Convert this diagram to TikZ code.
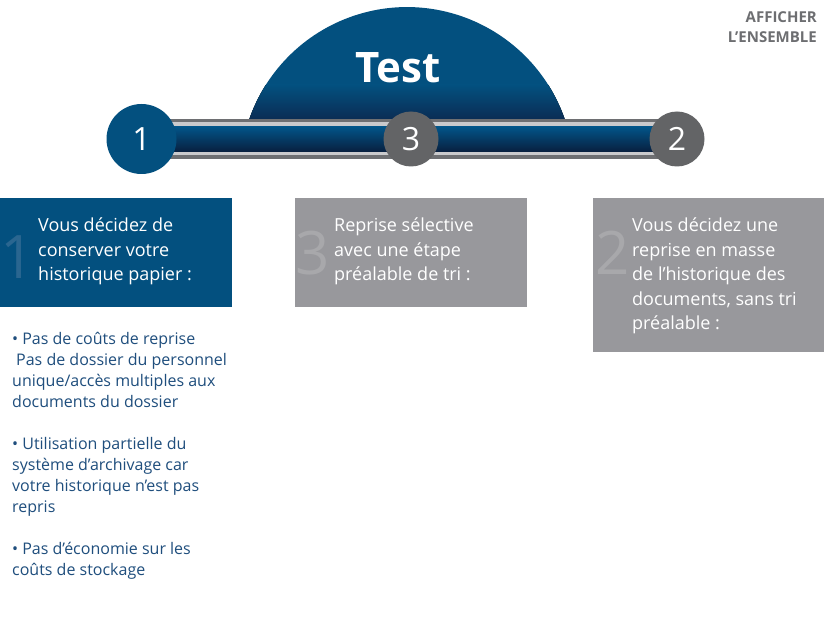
\documentclass[tikz,border=0pt]{standalone}
\usepackage{fontspec}
\setmainfont{Open Sans}
\usetikzlibrary{positioning,calc}

\definecolor{stepblue}{HTML}{03507F}
\definecolor{domedark}{HTML}{0B2B52}
\definecolor{barblue}{HTML}{02558A}
\definecolor{bardark}{HTML}{08203F}
\definecolor{bargray}{HTML}{6E6F72}
\definecolor{barlight}{HTML}{CACACC}
\definecolor{stepgray}{HTML}{636466}
\definecolor{panelgray}{HTML}{98989C}
\definecolor{listblue}{HTML}{1F4E7D}
\definecolor{faintblue}{HTML}{2A6690}
\definecolor{faintgray}{HTML}{A8A8AB}
\definecolor{linkgray}{HTML}{6D6E71}

\begin{document}
\begin{tikzpicture}[x=1pt,y=-1pt,
  numdisc/.style={circle, inner sep=0pt, text=white, font=\fontsize{32}{32}\selectfont},
  panel/.style={anchor=north west, inner sep=0pt, minimum width=232, minimum height=109},
  paneltext/.style={anchor=base west, inner sep=0pt, align=left, text=white, font=\fontsize{18}{24.5}\selectfont},
  bignum/.style={anchor=base west, inner sep=0pt, font=\fontsize{60}{60}\selectfont}]
	\useasboundingbox (0,0) rectangle (824,639);
	\fill[white] (0,0) rectangle (824,639);

	% dome
	\fill[stepblue] (565,120) arc[start angle=-18.9, end angle=-161.1, radius=167] -- cycle;
	\begin{scope}
		\clip (565,120) arc[start angle=-18.9, end angle=-161.1, radius=167] -- cycle;
		\fill[top color=stepblue, bottom color=domedark] (230,85) rectangle (585,121);
	\end{scope}
	\node[inner sep=0pt, text=white, font=\bfseries\fontsize{42}{42}\selectfont] (title) at (398,68) {Test};

	% steps
	\coordinate (s1) at (141.5,139);
	\coordinate (s2) at (677,139);
	\fill[bargray] ($(s1)+(0,-20)$) rectangle ($(s2)+(0,20)$);
	\fill[barlight] ($(s1)+(0,-16.5)$) rectangle ($(s2)+(0,16.5)$);
	\fill[top color=barblue, bottom color=bardark] ($(s1)+(0,-12.5)$) rectangle ($(s2)+(0,12.5)$);
	\node[numdisc, fill=stepblue, minimum size=70] (c1) at (s1) {1};
	\node[numdisc, fill=stepgray, minimum size=55] (c3) at (411,139) {3};
	\node[numdisc, fill=stepgray, minimum size=55] (c2) at (s2) {2};

	% panels (base = last line)
	\node[panel, fill=stepblue] (p1) at (0,198) {};
	\node[panel, fill=panelgray] (p3) at (295,198) {};
	\node[panel, fill=panelgray, minimum width=231, minimum height=154] (p2) at (593,198) {};
	\node[bignum, text=faintblue] (n1) at ($(p1.north west)+(0,80)$) {1};
	\node[bignum, text=faintgray] (n3) at ($(p3.north west)+(0,76)$) {3};
	\node[bignum, text=faintgray] (n2) at ($(p2.north west)+(2,76)$) {2};
	\node[paneltext] (t1) at ($(p1.north west)+(38,82.5)$) {Vous décidez de\\conserver votre\\historique papier :};
	\node[paneltext] (t3) at ($(p3.north west)+(39,82.5)$) {Reprise sélective\\avec une étape\\préalable de tri :};
	\node[paneltext] (t2) at ($(p2.north west)+(39,131.5)$) {Vous décidez une\\reprise en masse\\de l’historique des\\documents, sans tri\\préalable :};

	% details
	\node[anchor=base west, inner sep=0pt, align=left, text=listblue, font=\fontsize{16}{21}\selectfont] (details) at (12,575)
		{• Pas de coûts de reprise\\\hspace*{4pt}Pas de dossier du personnel\\unique/accès multiples aux\\documents du dossier\\[21pt]
		 • Utilisation partielle du\\système d’archivage car\\votre historique n’est pas\\repris\\[21pt]
		 • Pas d’économie sur les\\coûts de stockage};

	\node[anchor=base east, inner sep=0pt, align=right, text=linkgray, font=\bfseries\fontsize{15}{20}\selectfont] (showall) at (817,42.5) {AFFICHER\\L’ENSEMBLE};
\end{tikzpicture}
\end{document}
